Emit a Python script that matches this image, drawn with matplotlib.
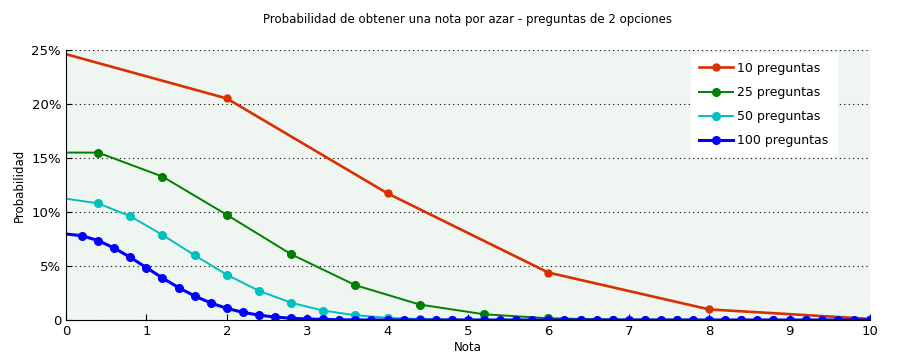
import numpy as np
import matplotlib
matplotlib.use('Agg')
import matplotlib.pyplot as plt
from matplotlib.ticker import FuncFormatter

# nota (0-10) and probability (%)
nota_10 = [0, 2, 4, 6, 8, 10]
prob_10 = [24.61, 20.51, 11.72, 4.39, 0.98, 0.10]

nota_25 = [-0.4, 0.4, 1.2, 2.0, 2.8, 3.6, 4.4, 5.2, 6.0, 6.8, 7.6, 8.4, 9.2, 10.0]
prob_25 = [15.50, 15.50, 13.28, 9.74, 6.09, 3.22, 1.43, 0.53, 0.16, 0.04, 0.01, 0.0, 0.0, 0.0]

nota_50 = [-0.4, 0.0, 0.4, 0.8, 1.2, 1.6, 2.0, 2.4, 2.8, 3.2, 3.6, 4.0, 4.4, 4.8, 5.2,
           5.6, 6.0, 6.4, 6.8, 7.2, 7.6, 8.0, 8.4, 8.8, 9.2, 9.6, 10.0]
prob_50 = [10.80, 11.23, 10.80, 9.60, 7.88, 5.99, 4.19, 2.70, 1.60, 0.87, 0.44, 0.20,
           0.08, 0.03, 0.01, 0.0, 0.0, 0.0, 0.0, 0.0, 0.0, 0.0, 0.0, 0.0, 0.0, 0.0, 0.0]

nota_100 = [0.0, 0.2, 0.4, 0.6, 0.8, 1.0, 1.2, 1.4, 1.6, 1.8, 2.0, 2.2, 2.4, 2.6, 2.8,
            3.0, 3.2, 3.4, 3.6, 3.8, 4.0, 4.2, 4.4, 4.6, 4.8, 5.0, 5.2, 5.4, 5.6, 5.8,
            6.0, 6.2, 6.4, 6.6, 6.8, 7.0, 7.2, 7.4, 7.6, 7.8, 8.0, 8.2, 8.4, 8.6, 8.8,
            9.0, 9.2, 9.4, 9.6, 9.8, 10.0]
prob_100 = [7.96, 7.80, 7.35, 6.66, 5.80, 4.85, 3.89, 3.00, 2.22, 1.58, 1.08, 0.71,
            0.45, 0.27, 0.16, 0.09, 0.05, 0.02, 0.01, 0.0, 0.0, 0.0, 0.0, 0.0, 0.0,
            0.0, 0.0, 0.0, 0.0, 0.0, 0.0, 0.0, 0.0, 0.0, 0.0, 0.0, 0.0, 0.0, 0.0, 0.0,
            0.0, 0.0, 0.0, 0.0, 0.0, 0.0, 0.0, 0.0, 0.0, 0.0, 0.0]

plt.rcParams['font.family'] = ['DejaVu Sans']
plt.rcParams['font.size'] = 8.5

fig = plt.figure(figsize=(9.1, 3.61), dpi=100)
ax = fig.add_axes([0.0725, 0.1136, 0.8835, 0.748])
ax.set_facecolor('#eff6f1')

ax.plot(nota_10, np.array(prob_10) / 100, color='#d83000', lw=1.9, marker='o', ms=5,
        markevery=slice(1, None), label='10 preguntas')
ax.plot(nota_25, np.array(prob_25) / 100, color='#007f00', lw=1.4, marker='o', ms=5.5,
        markevery=slice(1, None), label='25 preguntas')
ax.plot(nota_50, np.array(prob_50) / 100, color='#00bfbf', lw=1.4, marker='o', ms=5.5,
        markevery=slice(2, None), label='50 preguntas')
ax.plot(nota_100, np.array(prob_100) / 100, color='#0000ff', lw=2.2, marker='o', ms=5.5,
        markevery=slice(1, None), label='100 preguntas')

ax.set_xlim(0, 10)
ax.set_ylim(0, 0.25)
ax.set_xticks(np.arange(0, 11, 1))
ax.set_yticks(np.arange(0, 0.251, 0.05))
ax.yaxis.set_major_formatter(FuncFormatter(lambda v, p: '0' if v == 0 else '%d%%' % round(v * 100)))
ax.yaxis.grid(True, linestyle=(0, (1, 3)), color='black', lw=0.8)
ax.set_axisbelow(True)
ax.tick_params(direction='in', length=4, colors='black', labelsize=9.5)
ax.spines['top'].set_visible(False)
ax.spines['right'].set_visible(False)

ax.set_title('Probabilidad de obtener una nota por azar - preguntas de 2 opciones',
             fontsize=8.5, pad=19.5)
ax.set_xlabel('Nota', fontsize=8.5, labelpad=2)
ax.set_ylabel('Probabilidad', fontsize=8.5)

leg = ax.legend(loc='upper right', bbox_to_anchor=(0.959, 0.989), borderaxespad=0,
                frameon=True, fancybox=False, framealpha=1, edgecolor='white', fontsize=9,
                handlelength=2.7, borderpad=0.7, labelspacing=0.9, handletextpad=0.3)

fig.savefig('out.png', dpi=100)
